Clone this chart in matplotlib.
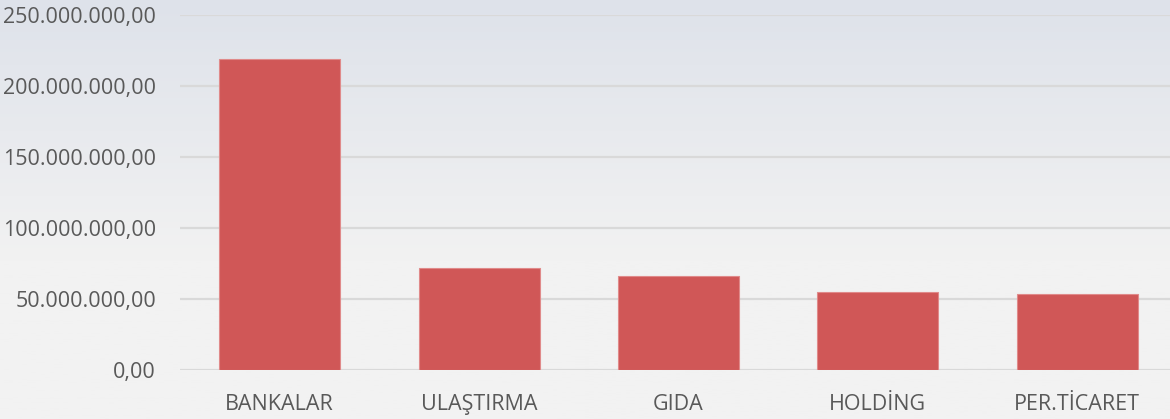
import numpy as np
import matplotlib.pyplot as plt
from matplotlib.colors import LinearSegmentedColormap

sectors = ['BANKALAR', 'ULAŞTIRMA', 'GIDA', 'HOLDİNG', 'PER.TİCARET']
values = [219.0e6, 71.8e6, 66.2e6, 54.7e6, 53.3e6]
yticks = [0, 50e6, 100e6, 150e6, 200e6, 250e6]
ytick_labels = ['0,00', '50.000.000,00', '100.000.000,00', '150.000.000,00',
                '200.000.000,00', '250.000.000,00']

W, H = 1170, 419
fig = plt.figure(figsize=(W / 100, H / 100), dpi=100)

# background gradient
bg = fig.add_axes([0, 0, 1, 1], zorder=-1)
cmap = LinearSegmentedColormap.from_list('bg', ['#dee2ea', '#f2f2f2'])
grad = np.linspace(0, 1, 256).reshape(-1, 1)
grad = np.clip(grad * 1.6, 0, 1)
bg.imshow(grad, aspect='auto', cmap=cmap, extent=[0, 1, 1, 0])
bg.axis('off')

ax = fig.add_axes([180 / W, 49 / H, 990 / W, 355 / H])
ax.patch.set_alpha(0)
x = np.arange(len(sectors))
ax.bar(x, values, width=0.607, color='#d05757', edgecolor='#e08a8a', linewidth=0.8, zorder=3)
ax.set_xlim(-0.5, 4.5 - 7 / 199.5)
ax.set_ylim(0, 250e6)
ax.set_yticks(yticks)
ax.set_yticklabels(ytick_labels)
ax.set_xticks(x)
ax.set_xticklabels(sectors)
ax.grid(axis='y', color='#d9d9d9', linewidth=1.6, zorder=0)
for s in ax.spines.values():
    s.set_visible(False)
ax.tick_params(length=0, labelsize=15.5, colors='#595959', labelcolor='#595959')
ax.tick_params(axis='y', pad=17.3)
ax.tick_params(axis='x', pad=17)
for lbl in ax.get_xticklabels() + ax.get_yticklabels():
    lbl.set_family('Open Sans')

fig.savefig('out.png', dpi=100)
